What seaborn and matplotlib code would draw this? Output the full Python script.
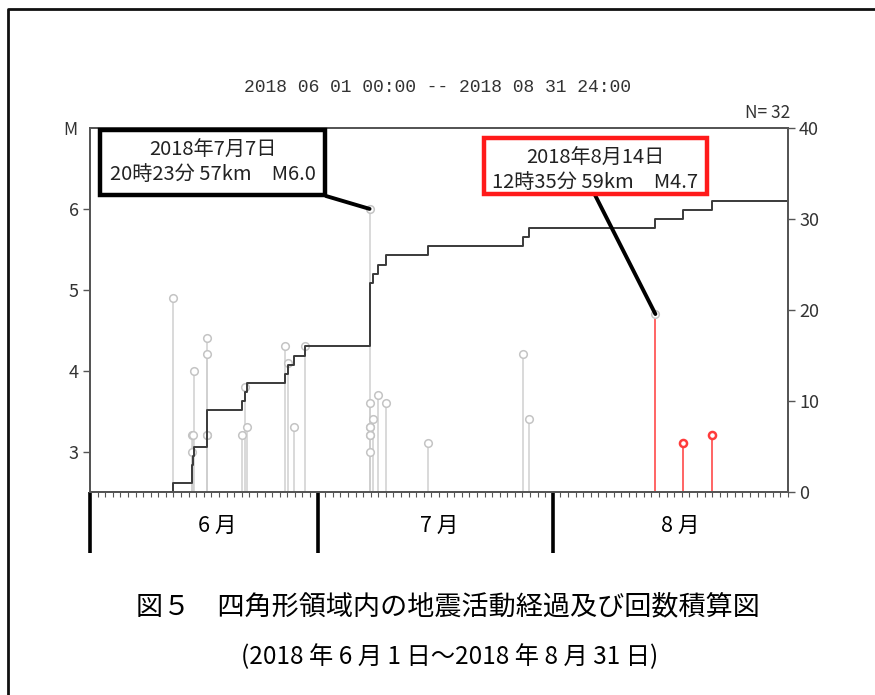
import numpy as np
import pandas as pd
import seaborn as sns
import matplotlib.pyplot as plt
from matplotlib.patches import Rectangle, ConnectionPatch
from matplotlib.lines import Line2D
from matplotlib.transforms import blended_transform_factory

# 経過日数（2018/6/1 00:00 からの日数）とマグニチュード
dias = [10.98, 13.38, 13.44, 13.64, 13.75, 15.36, 15.38, 15.41, 15.43,
        19.99, 20.43, 20.65, 25.70, 26.14, 26.95, 28.40,
        36.85, 36.86, 36.88, 36.89, 36.91, 36.93, 36.95,
        37.34, 37.96, 38.95, 44.59, 57.11, 57.90,
        74.52, 78.12, 81.94]
mags = [4.9, 3.0, 3.2, 3.2, 4.0, 4.4, 4.2, 3.2, 3.2,
        3.2, 3.8, 3.3, 4.3, 4.1, 3.3, 4.3,
        6.0, 3.6, 3.3, 3.3, 3.2, 3.0, 3.2,
        3.4, 3.7, 3.6, 3.1, 4.2, 3.4,
        4.7, 3.1, 3.2]
recente = [False] * 29 + [True] * 3   # 赤で表示する期間

meses = ['6 月', '7 月', '8 月']
inicio_mes = [0, 30, 61]
centro_mes = [16.7, 46.0, 77.8]
total_dias = 92

df = pd.DataFrame({'dia': dias, 'M': mags, 'recente': recente})
cum_x = [0] + dias + [total_dias]
cum_y = [0] + list(range(1, len(dias) + 1)) + [len(dias)]

W, H = 875, 695
fig = plt.figure(figsize=(8.75, 6.95), dpi=100, facecolor='white')
plt.rcParams['font.family'] = ['Noto Sans CJK JP', 'DejaVu Sans']


def px(x, y):
    # pixel -> figure fraction
    return x / W, 1 - y / H


ax = fig.add_axes([90 / W, 1 - 492 / H, (788 - 90) / W, (492 - 128) / H])
ax2 = ax.twinx()

# stems
cinza = '#cfcfcf'
vermelho = '#ff3b3b'
for _, r in df.iterrows():
    cor = vermelho if r['recente'] else cinza
    ax.vlines(r['dia'], 2.5, r['M'], color=cor, lw=1.1, zorder=1)
old = df[~df['recente'] | (df['M'] > 4)]
new = df[df['recente'] & (df['M'] < 4)]
sns.scatterplot(data=old, x='dia', y='M', ax=ax, marker='o', s=30,
                facecolor='white', edgecolor='#c4c4c4', linewidth=1.1, zorder=2)
sns.scatterplot(data=new, x='dia', y='M', ax=ax, marker='o', s=26,
                facecolor='white', edgecolor=vermelho, linewidth=1.8, zorder=2)

# cumulative count
sns.lineplot(x=cum_x, y=cum_y, ax=ax2, color='#3a3a3a', lw=1.4,
             drawstyle='steps-post', estimator=None, sort=False)

ax.set_xlim(0, total_dias)
ax.set_ylim(2.5, 7.0)
ax2.set_ylim(0, 40)
ax.set_yticks([3, 4, 5, 6])
ax2.set_yticks([0, 10, 20, 30, 40])
ax.set_xlabel('')
ax.set_ylabel('')
ax2.set_ylabel('')

for a in (ax, ax2):
    for s in a.spines.values():
        s.set_color('#555555')
        s.set_linewidth(1.3)
ax.tick_params(axis='y', direction='out', length=5, width=1, color='#555555',
               labelcolor='#333333', labelsize=13, pad=3)
ax2.tick_params(axis='y', direction='out', length=5, width=1, color='#555555',
                labelcolor='#333333', labelsize=13, pad=3)

ax.set_xticks(inicio_mes)
ax.set_xticklabels([])
ax.set_xticks(np.arange(0, total_dias + 1), minor=True)
ax.tick_params(axis='x', which='major', direction='out', length=44, width=2.6,
               color='black')
ax.tick_params(axis='x', which='minor', direction='out', length=3.5, width=0.8,
               color='#555555')

trans = blended_transform_factory(ax.transData, ax.transAxes)
for c, m in zip(centro_mes, meses):
    ax.text(c, -0.092, m, transform=trans, ha='center', va='center',
            fontsize=15.5, color='black')

# header texts
fig.text(*px(437, 87), '2018 06 01 00:00 -- 2018 08 31 24:00', ha='center',
         va='center', fontsize=13, family='Liberation Mono', color='#333333')
fig.text(*px(790, 113), 'N= 32', ha='right', va='center', fontsize=12.5,
         color='#333333')
fig.text(*px(70, 130), 'M', ha='center', va='center', fontsize=12.5,
         color='#333333')

# annotation boxes
caixas = [
    (100, 130, 325, 195, 'black', '2018年7月7日', '20時23分 57km\u3000M6.0',
     (326, 196), (36.85, 6.0)),
    (484, 138, 707, 194, '#ff1a1a', '2018年8月14日', '12時35分 59km\u3000M4.7',
     (595, 195), (74.52, 4.7)),
]
for x0, y0, x1, y1, cor, l1, l2, canto, ponto in caixas:
    fx0, fy1 = px(x0, y1)
    fx1, fy0 = px(x1, y0)
    fig.add_artist(Rectangle((fx0, fy1), fx1 - fx0, fy0 - fy1,
                             transform=fig.transFigure, facecolor='white',
                             edgecolor=cor, lw=3.2, zorder=5))
    cx = (x0 + x1) / 2
    fig.text(*px(cx, y0 + 20), l1, ha='center', va='center', fontsize=14.5,
             color='#222222', zorder=6)
    fig.text(*px(cx, y0 + 45), l2, ha='center', va='center', fontsize=14.5,
             color='#222222', zorder=6)
    con = ConnectionPatch(xyA=px(*canto), coordsA=fig.transFigure,
                          xyB=ponto, coordsB=ax.transData,
                          color='black', lw=2.8, zorder=4)
    fig.add_artist(con)

# caption
fig.text(*px(448, 607), '図５\u3000四角形領域内の地震活動経過及び回数積算図',
         ha='center', va='center', fontsize=19.5, color='black')
fig.text(*px(450, 657), '(2018 年 6 月 1 日～2018 年 8 月 31 日)',
         ha='center', va='center', fontsize=17.5, color='black')

# outer frame (left and top edges only)
fx0, fy0 = px(8, 9)
fig.add_artist(Line2D([fx0, fx0, 1.0], [0.0, fy0, fy0],
                      transform=fig.transFigure, color='#111111', lw=2))

plt.savefig('out.png', dpi=100)
plt.close()
